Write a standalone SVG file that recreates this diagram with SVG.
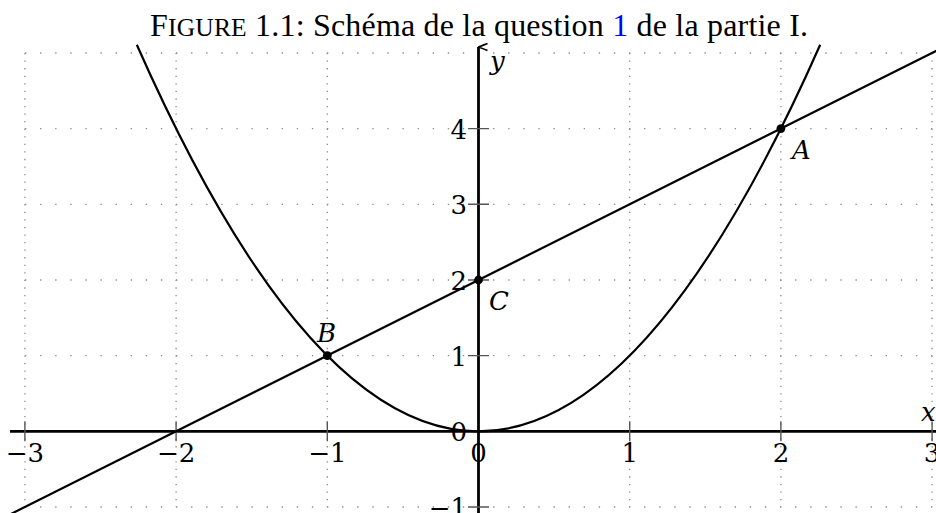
<svg xmlns="http://www.w3.org/2000/svg" width="936" height="513" viewBox="0 0 936 513">
<defs>
<style>
.grid-h{stroke:#8a8a8a;stroke-width:1.3;stroke-dasharray:1.3 13.8;fill:none}
.grid-v{stroke:#8a8a8a;stroke-width:1.3;stroke-dasharray:1.3 6.26;fill:none}
.axis{stroke:#000;stroke-width:2.8;fill:none}
.tick{stroke:#555;stroke-width:1.4}
.curve{stroke:#000;stroke-width:2.2;fill:none}
.lbl{font-family:"DejaVu Serif","Liberation Serif",serif;font-size:26px;fill:#000}
.it{font-family:"DejaVu Serif","Liberation Serif",serif;font-style:italic;font-size:26px;fill:#000}
.title{font-family:"Liberation Serif","DejaVu Serif",serif;font-size:32px;fill:#000}
.pt{fill:#000}
</style>
<marker id="arr" markerWidth="12" markerHeight="12" refX="6" refY="1" orient="auto-start-reverse" markerUnits="userSpaceOnUse" viewBox="0 0 12 12">
<path d="M2.5,10 Q4.5,5 6,1 Q7.5,5 9.5,10" fill="none" stroke="#000" stroke-width="1.7"/>
</marker>
</defs>
<rect width="936" height="513" fill="#fff"/>

<text class="title" x="150" y="35.5" textLength="658" lengthAdjust="spacing">F<tspan font-size="25.5">IGURE</tspan> 1.1: Schéma de la question <tspan fill="#0000ff">1</tspan> de la partie I.</text>

<g id="grid">
<path class="grid-h" d="M25,53H932.1M25,128.6H932.1M25,204.3H932.1M25,280H932.1M25,355.6H932.1M25,507H932.1"/>
<path class="grid-v" d="M24.9,53V507M176.1,53V507M327.3,53V507M629.7,53V507M780.9,53V507M932.1,53V507"/>
</g>

<g id="axes">
<line class="axis" x1="10" y1="431.3" x2="940" y2="431.3"/>
<line class="axis" x1="478.5" y1="513" x2="478.5" y2="47" marker-end="url(#arr)"/>
<path class="tick" d="M24.9,421.3V441.3M176.1,421.3V441.3M327.3,421.3V441.3M629.7,421.3V441.3M780.9,421.3V441.3M932.1,421.3V441.3"/>
<path class="tick" d="M468,507H489M468,355.6H489M468,280H489M468,204.3H489M468,128.6H489"/>
<text class="lbl" text-anchor="middle" x="24.9" y="462">−3</text>
<text class="lbl" text-anchor="middle" x="176.1" y="462">−2</text>
<text class="lbl" text-anchor="middle" x="327.3" y="462">−1</text>
<text class="lbl" text-anchor="middle" x="478.5" y="462">0</text>
<text class="lbl" text-anchor="middle" x="629.7" y="462">1</text>
<text class="lbl" text-anchor="middle" x="780.9" y="462">2</text>
<text class="lbl" text-anchor="middle" x="932.1" y="462">3</text>
<text class="lbl" text-anchor="end" x="467" y="517">−1</text>
<text class="lbl" text-anchor="end" x="467" y="441">0</text>
<text class="lbl" text-anchor="end" x="467" y="365.5">1</text>
<text class="lbl" text-anchor="end" x="467" y="290">2</text>
<text class="lbl" text-anchor="end" x="467" y="214">3</text>
<text class="lbl" text-anchor="end" x="467" y="138.6">4</text>
<text class="it" x="921" y="421">x</text>
<text class="it" x="490" y="70">y</text>
</g>

<g id="parabola">
<path class="curve" d="M136.8,44.8Q478.5,817.8 820.2,44.8"/>
</g>
<g id="line">
<path class="curve" d="M-5.3,522.1L962.3,37.8"/>
</g>

<g id="A">
<circle class="pt" cx="780.9" cy="128.6" r="4.4"/>
<text class="it" x="792" y="159">A</text>
</g>
<g id="B">
<circle class="pt" cx="327.3" cy="355.6" r="4.4"/>
<text class="it" x="317" y="342">B</text>
</g>
<g id="C">
<circle class="pt" cx="478.5" cy="280" r="4.4"/>
<text class="it" x="489" y="310">C</text>
</g>
</svg>
